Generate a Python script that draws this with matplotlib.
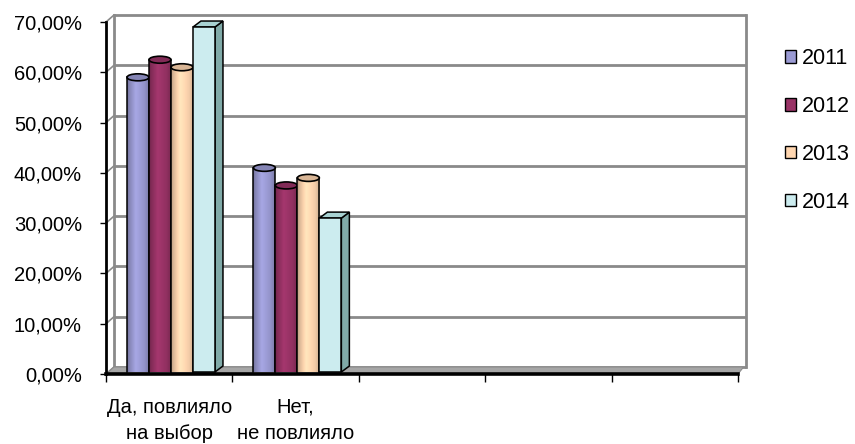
import numpy as np
import matplotlib
matplotlib.use('Agg')
import matplotlib.pyplot as plt
from matplotlib.patches import Rectangle, Ellipse, Polygon, Patch
from matplotlib.colors import to_rgb

plt.rcParams['font.family'] = ['Liberation Sans', 'DejaVu Sans']

# ---- data ----
categories = ['Да, повлияло\nна выбор', 'Нет,\nне повлияло']
n_slots = 5
years = ['2011', '2012', '2013', '2014']
v2011 = [0.59, 0.41]
v2012 = [0.625, 0.375]
v2013 = [0.61, 0.39]
v2014 = [0.69, 0.31]
yticks = [0.0, 0.1, 0.2, 0.3, 0.4, 0.5, 0.6, 0.7]
ytick_labels = ['0,00%', '10,00%', '20,00%', '30,00%', '40,00%', '50,00%', '60,00%', '70,00%']
series = [v2011, v2012, v2013, v2014]
colors = ['#9B9BD4', '#993366', '#FFD6B0', '#CCECEF']

# ---- figure / axes ----
W, H = 855, 444
fig = plt.figure(figsize=(W / 100, H / 100), dpi=100)
x_left, x_right, y_bot, y_top = 106, 738, 374, 22
ax = fig.add_axes([x_left / W, (H - y_bot) / H, (x_right - x_left) / W, (y_bot - y_top) / H])
ax.set_xlim(0, n_slots)
ax.set_ylim(0, 0.7)

pxx = n_slots / (x_right - x_left)   # data units per px, x
pxy = 0.7 / (y_bot - y_top)          # data units per px, y
dx, dy = 8 * pxx, 7 * pxy            # depth offset of back wall

grid_c = '#8A8A8A'
# back-wall gridlines + left-wall diagonals
for v in yticks:
    ax.plot([dx, n_slots + dx], [v + dy, v + dy], color=grid_c, lw=2.0, clip_on=False, zorder=1,
            solid_capstyle='butt')
    ax.plot([0, dx], [v, v + dy], color=grid_c, lw=1.2, clip_on=False, zorder=1)
# back wall verticals
ax.plot([dx, dx], [dy, 0.7 + dy], color=grid_c, lw=2.0, clip_on=False, zorder=1)
ax.plot([n_slots + dx, n_slots + dx], [dy, 0.7 + dy], color=grid_c, lw=2.0, clip_on=False, zorder=1)
# floor
floor = Polygon([(0, 0), (n_slots, 0), (n_slots + dx * 0.7, dy), (dx, dy)], closed=True,
                facecolor='#A6A6A6', edgecolor='#8C8C8C', lw=0.8, clip_on=False, zorder=1.5)
ax.add_patch(floor)

# ---- bars ----
bw = 22 * pxx
t = np.linspace(0, 1, 64)
shade = np.interp(t, [0, 0.1, 0.4, 0.8, 1], [0.72, 0.85, 1.08, 0.95, 0.8])
ell_h = 7 * pxy
base_off = 2 * pxy
for ci in range(len(categories)):
    for k, (vals, col) in enumerate(zip(series, colors)):
        h = vals[ci]
        x0 = ci + 0.514 + (k - 2) * bw
        x1 = x0 + bw
        rgb = np.array(to_rgb(col))
        if k < 3:
            img = np.clip(rgb[None, None, :] * shade[None, :, None], 0, 1)
            ax.imshow(img, extent=(x0, x1, base_off, h), aspect='auto', interpolation='bilinear',
                      zorder=3 + k * 0.1, clip_on=False)
            ax.plot([x0, x0], [base_off, h], color='black', lw=1.1, zorder=3.01 + k * 0.1, clip_on=False)
            ax.plot([x1, x1], [base_off, h], color='black', lw=1.1, zorder=3.01 + k * 0.1, clip_on=False)
            ax.add_patch(Ellipse((x0 + bw / 2, h), bw, ell_h, facecolor=np.clip(rgb * 0.85, 0, 1),
                                 edgecolor='black', lw=1.2, zorder=3.02 + k * 0.1, clip_on=False))
        else:
            ax.add_patch(Rectangle((x0, base_off), bw, h - base_off, facecolor=col, edgecolor='black',
                                   lw=1.1, zorder=3.3, clip_on=False))
            sdx, sdy = 8 * pxx, 6 * pxy
            ax.add_patch(Polygon([(x1, base_off), (x1 + sdx, base_off + sdy), (x1 + sdx, h + sdy), (x1, h)],
                                 closed=True, facecolor='#80AAA8', edgecolor='black', lw=1.1,
                                 zorder=3.25, clip_on=False))
            ax.add_patch(Polygon([(x0, h), (x0 + sdx, h + sdy), (x1 + sdx, h + sdy), (x1, h)],
                                 closed=True, facecolor='#A8D2D2', edgecolor='black', lw=1.1,
                                 zorder=3.25, clip_on=False))

# ---- axes styling ----
for s in ['top', 'right']:
    ax.spines[s].set_visible(False)
ax.spines['left'].set_color('black')
ax.spines['left'].set_linewidth(2.0)
ax.spines['bottom'].set_color('black')
ax.spines['bottom'].set_linewidth(2.6)
ax.spines['left'].set_zorder(5)
ax.spines['bottom'].set_zorder(5)
ax.set_yticks(yticks)
ax.set_yticklabels(ytick_labels)
ax.tick_params(axis='y', length=4.3, width=1.0, pad=13, labelsize=14.5, colors='black')
ax.set_xticks(range(n_slots + 1))
ax.set_xticklabels([])
ax.tick_params(axis='x', length=5.5, width=1.0, colors='black')
ax.patch.set_visible(False)

for ci, cat in enumerate(categories):
    ax.annotate(cat, xy=(ci + 0.5, 0), xycoords=('data', 'axes fraction'),
                xytext=(0, -17), textcoords='offset points', ha='center', va='top',
                fontsize=14.5, linespacing=1.5, multialignment='center')

handles = [Patch(facecolor=c, edgecolor='black', lw=1.0) for c in colors]
fig.legend(handles, years, loc='upper left', bbox_to_anchor=(785 / W, 1 - 48 / H), frameon=False,
           fontsize=15.5, handlelength=0.52, handleheight=0.52, handletextpad=0.25, labelspacing=1.25,
           borderaxespad=0, borderpad=0)

fig.savefig('out.png', dpi=100)
